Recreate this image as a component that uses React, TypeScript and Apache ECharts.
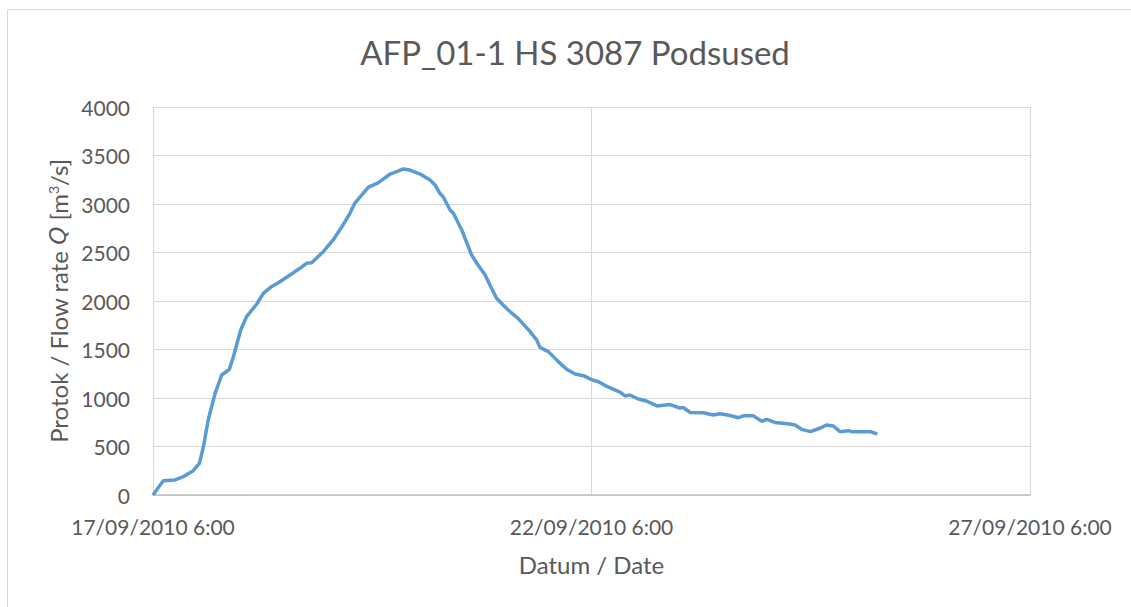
import React, { useEffect, useRef } from "react";
import * as echarts from "echarts";

const startDate = Date.UTC(2010, 8, 17, 6, 0);
const xTickHours = [0, 120, 240];
const yTicks = [0, 500, 1000, 1500, 2000, 2500, 3000, 3500, 4000];

const hours = [
  0, 2.8, 6, 8.3, 11, 12.7, 13.8, 15.1, 17, 18.8, 20.9, 22, 24, 25.6, 28.4, 30.2, 32.4, 34.3, 37.5, 40.2,
  42, 43.4, 46.6, 49.3, 51.6, 53.9, 55.2, 58.9, 61.7, 64.9, 66.7, 68.5, 70.3, 73.1, 75.8, 77.2, 78.5, 79.4,
  81.3, 82.2, 84.5, 87.2, 88.6, 90.9, 92.2, 94, 97.2, 99.9, 103.2, 105, 105.9, 108.2, 110.9, 113.2, 115.5,
  117.8, 120, 121.9, 124.2, 127.8, 129.2, 130.5, 132.8, 135, 137.9, 141.5, 144.2, 145.1, 147, 150.6, 153.3,
  155.2, 157.9, 160.2, 161.6, 164.3, 166.6, 167.9, 170.2, 174.3, 175.7, 177.5, 179.9, 182.5, 184.3, 186.2,
  188, 190.3, 191.2, 196.3, 198.2,
];

const flow = [
  0, 147, 155, 189, 251, 326, 498, 773, 1048, 1237, 1296, 1426, 1701, 1838, 1969, 2079, 2148, 2189, 2268, 2337,
  2389, 2395, 2508, 2629, 2760, 2904, 3007, 3172, 3220, 3309, 3333, 3361, 3350, 3309, 3247, 3196, 3110, 3075,
  2938, 2904, 2732, 2474, 2389, 2268, 2165, 2028, 1907, 1821, 1684, 1598, 1522, 1478, 1375, 1296, 1247,
  1230, 1190, 1168, 1120, 1060, 1021, 1031, 990, 969, 918, 932, 897, 902, 851, 848, 825,
  837, 820, 797, 816, 816, 760, 780, 748, 732, 722, 677, 653, 688, 722, 711,
  653, 663, 653, 653, 629,
];

const titleText = "AFP_01-1 HS 3087 Podsused";
const xName = "Datum / Date";

const pad = (n: number) => (n < 10 ? "0" + n : "" + n);
const fmtDate = (h: number) => {
  const d = new Date(startDate + h * 3600 * 1000);
  return `${pad(d.getUTCDate())}/${pad(d.getUTCMonth() + 1)}/${d.getUTCFullYear()} ${d.getUTCHours()}:${pad(d.getUTCMinutes())}`;
};

const FONT = "Lato";
const TXT = "#595959";

export default function App() {
  const ref = useRef<HTMLDivElement>(null);
  useEffect(() => {
    if (!ref.current) return;
    const chart = echarts.init(ref.current, undefined, { renderer: "svg" });
    const data = hours.map((h, i) => [h, flow[i]]);
    chart.setOption({
      animation: false,
      backgroundColor: "#ffffff",
      textStyle: { fontFamily: FONT },
      grid: { left: 153, top: 107, width: 877, height: 388, containLabel: false },
      graphic: [
        {
          type: "rect",
          shape: { x: 7.5, y: 9.5, width: 1300, height: 800 },
          style: { fill: "none", stroke: "#d9d9d9", lineWidth: 1 },
          silent: true,
        },
        {
          type: "text",
          x: 575,
          y: 52,
          style: {
            text: titleText,
            fontFamily: FONT,
            fontSize: 33,
            fill: TXT,
            textAlign: "center",
            textVerticalAlign: "middle",
          },
        },
      ],
      xAxis: {
        type: "value",
        min: xTickHours[0],
        max: xTickHours[xTickHours.length - 1],
        interval: xTickHours[1] - xTickHours[0],
        name: xName,
        nameLocation: "middle",
        nameGap: 57,
        nameTextStyle: { fontFamily: FONT, fontSize: 24, color: TXT },
        axisLine: { show: true, lineStyle: { color: "#bfbfbf", width: 1.5 } },
        axisTick: { show: false },
        splitLine: { show: true, lineStyle: { color: "#d9d9d9", width: 1 } },
        axisLabel: {
          margin: 21,
          fontFamily: FONT,
          fontSize: 21,
          color: TXT,
          formatter: (v: number) => fmtDate(v),
        },
      },
      yAxis: {
        type: "value",
        min: yTicks[0],
        max: yTicks[yTicks.length - 1],
        interval: yTicks[1] - yTicks[0],
        name: "{a|Protok / Flow rate }{q|Q}{a| [m}{s|3}{a|/s]}",
        nameLocation: "middle",
        nameGap: 82,
        nameTextStyle: {
          rich: {
            a: { fontFamily: FONT, fontSize: 24, color: TXT },
            q: { fontFamily: "DejaVu Sans", fontSize: 23, color: TXT, fontStyle: "italic" },
            s: { fontFamily: FONT, fontSize: 14, color: TXT, verticalAlign: "top", padding: [0, 0, 10, 0] },
          },
        },
        axisLine: { show: true, lineStyle: { color: "#d9d9d9", width: 1 } },
        axisTick: { show: false },
        splitLine: { show: true, lineStyle: { color: "#d9d9d9", width: 1 } },
        axisLabel: {
          margin: 23,
          fontFamily: FONT,
          fontSize: 21,
          color: TXT,
          formatter: (v: number) => String(v),
        },
      },
      series: [
        {
          type: "line",
          data,
          showSymbol: false,
          smooth: false,
          lineStyle: { color: "#5b9bd5", width: 3.5 },
          itemStyle: { color: "#5b9bd5" },
        },
      ],
    });
    return () => chart.dispose();
  }, []);
  return (
    <div
      ref={ref}
      style={{ position: "fixed", left: 0, top: 0, width: 1131, height: 607, background: "#fff" }}
    />
  );
}
